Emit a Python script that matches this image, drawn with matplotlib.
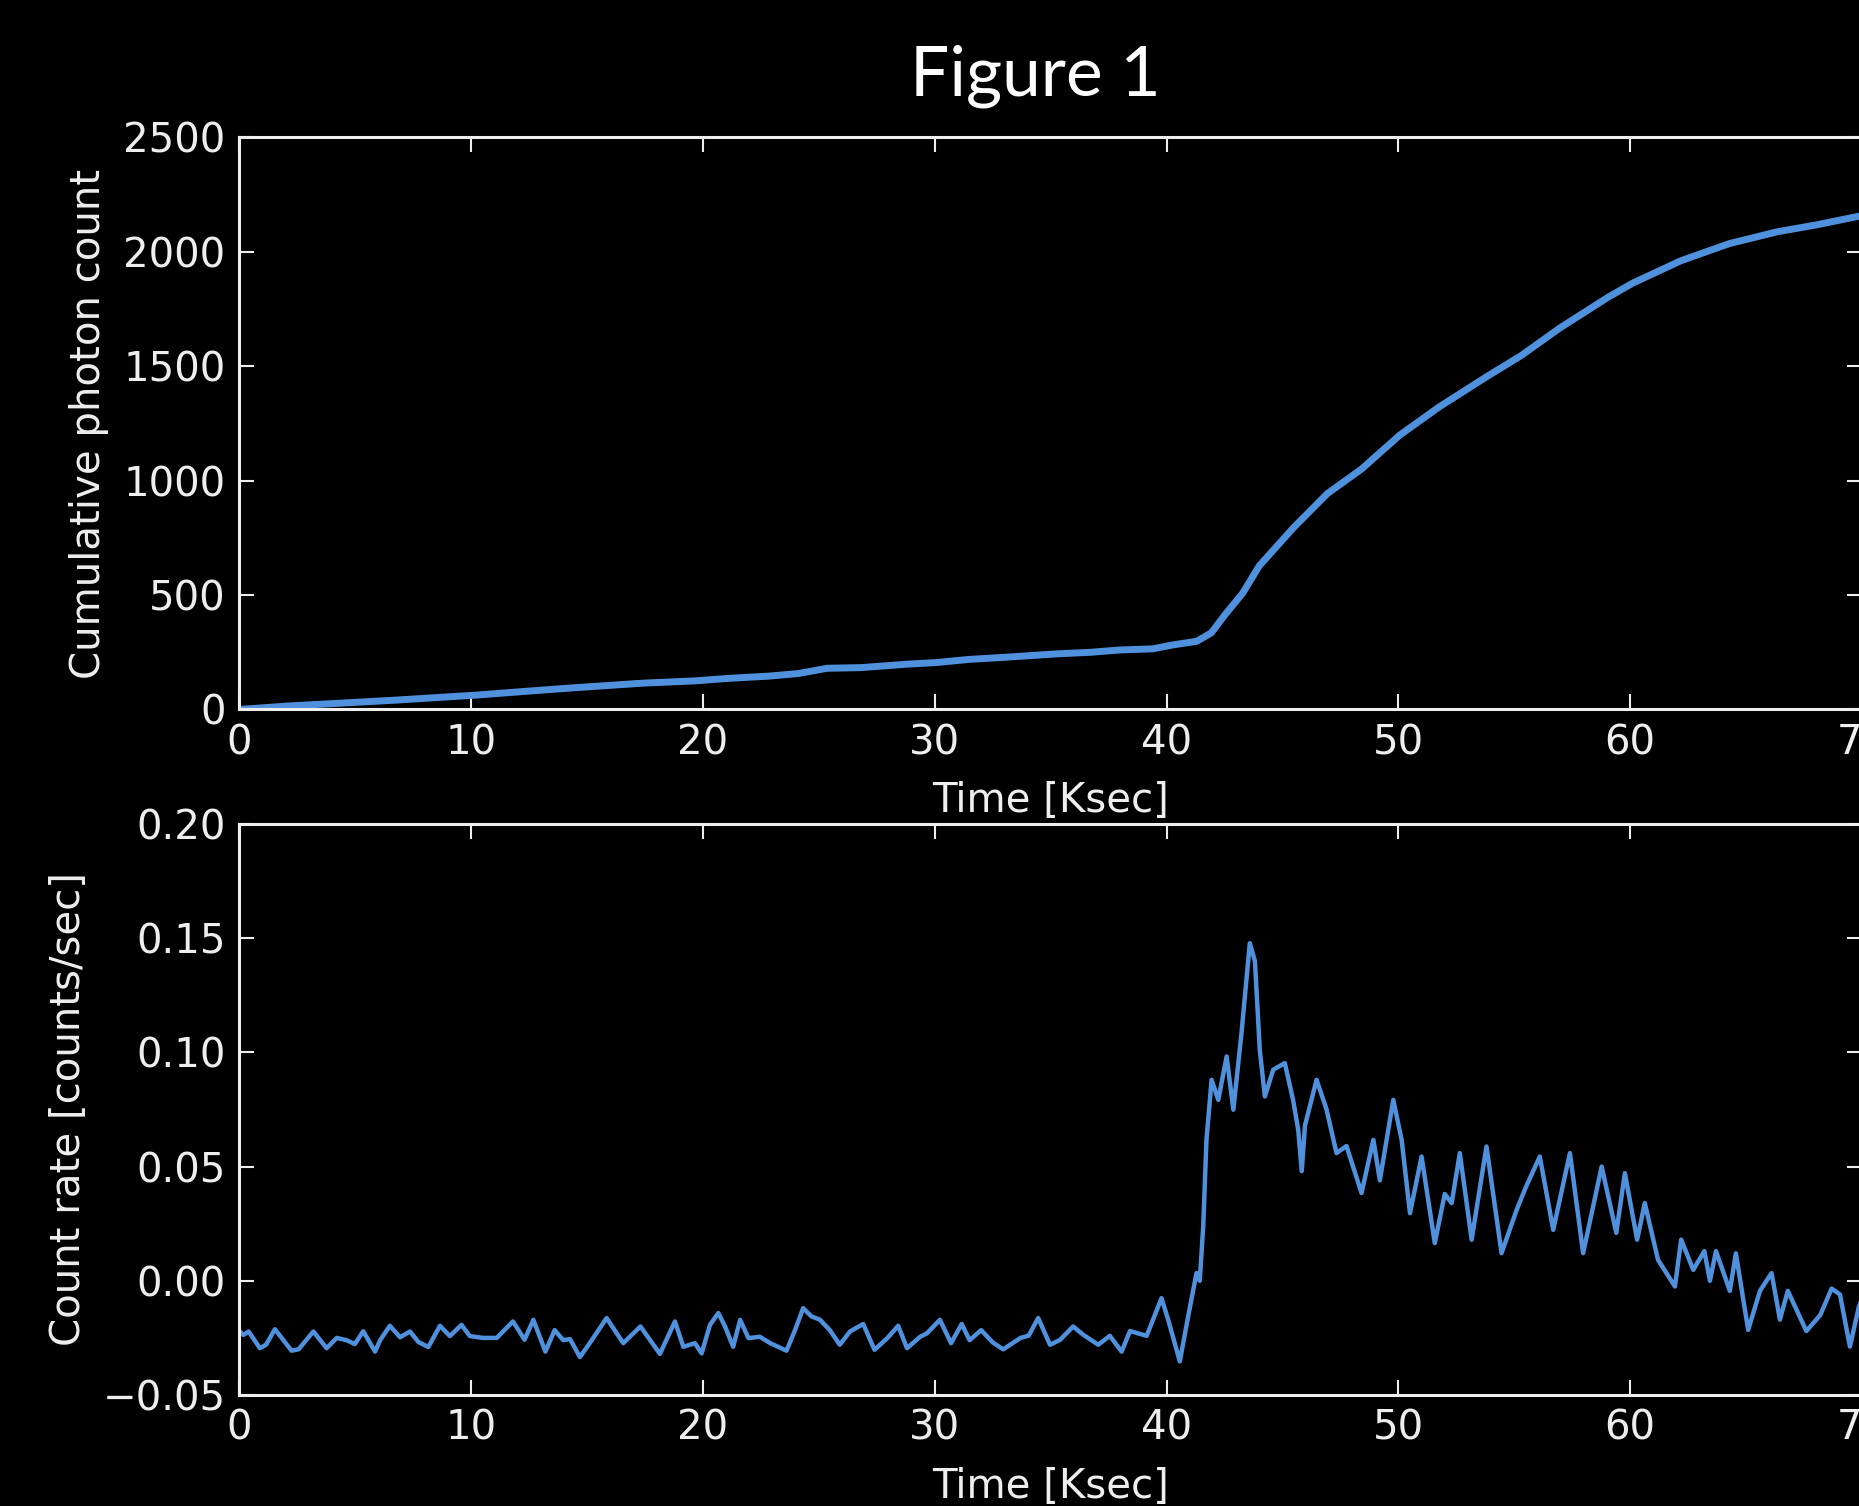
import numpy as np
import matplotlib
matplotlib.use("Agg")
import matplotlib.pyplot as plt

#======================================================================
# data
# cumulative photon count [counts] vs time [ksec]
cum_time = [0.0, 2.07, 4.8, 6.77, 8.5, 10.24, 12.7, 14.45, 17.4, 19.65,
            21.1, 22.87, 24.1, 25.35, 26.83, 28.8, 30.05, 31.5, 33.0, 35.25,
            36.73, 37.97, 39.4, 40.26, 41.3, 41.93, 42.55, 43.28, 44.0, 45.47,
            46.94, 48.4, 50.07, 51.74, 53.83, 55.3, 56.96, 59.05, 60.1, 62.18,
            64.27, 66.35, 68.03, 69.87, 70.0]
cum_count = [0, 15, 30, 41, 52, 63, 82, 95, 115, 125,
             136, 146, 157, 180, 183, 198, 205, 219, 228, 243,
             250, 260, 265, 282, 298, 335, 418, 508, 628, 794,
             944, 1050, 1200, 1321, 1456, 1547, 1667, 1802, 1863, 1961,
             2036, 2088, 2118, 2156, 2158]

# count rate [counts/sec] vs time [ksec]
rate_time = [0.0, 0.17, 0.4, 0.88, 1.15, 1.53, 2.25, 2.55, 3.19, 3.76,
             4.2, 4.62, 4.98, 5.34, 5.85, 6.07, 6.49, 6.93, 7.36, 7.72,
             8.15, 8.65, 9.08, 9.58, 9.94, 10.5, 11.1, 11.8, 12.3, 12.68,
             13.2, 13.6, 13.97, 14.26, 14.69, 15.2, 15.84, 16.56, 17.3, 18.14,
             18.79, 19.15, 19.65, 19.94, 20.3, 20.66, 20.95, 21.3, 21.6, 21.96,
             22.45, 22.9, 23.6, 23.97, 24.32, 24.68, 25.04, 25.47, 25.9, 26.34,
             26.91, 27.4, 27.95, 28.42, 28.8, 29.37, 29.66, 30.22, 30.7, 31.16,
             31.5, 32.0, 32.5, 32.95, 33.7, 34.05, 34.46, 34.97, 35.4, 35.97,
             36.4, 37.05, 37.55, 38.06, 38.42, 39.14, 39.78, 40.07, 40.57, 40.93,
             41.29, 41.43, 41.58, 41.72, 41.94, 42.23, 42.59, 42.88, 43.23, 43.59,
             43.81, 44.02, 44.24, 44.6, 45.1, 45.46, 45.68, 45.83, 45.97, 46.47,
             46.9, 47.33, 47.76, 48.41, 48.92, 49.2, 49.78, 50.14, 50.5, 51.0,
             51.57, 52.0, 52.3, 52.65, 53.16, 53.8, 54.45, 55.1, 55.5, 56.1,
             56.68, 57.4, 57.97, 58.77, 59.4, 59.77, 60.3, 60.63, 61.2, 61.93,
             62.2, 62.72, 63.2, 63.44, 63.7, 64.3, 64.56, 65.09, 65.6, 66.1,
             66.46, 66.8, 67.6, 68.2, 68.69, 69.05, 69.48, 69.87, 70.0]
rate_value = [-0.022, -0.0237, -0.0222, -0.0295, -0.028, -0.0212, -0.0306, -0.030, -0.0222, -0.0295,
              -0.025, -0.026, -0.0277, -0.0221, -0.031, -0.026, -0.0197, -0.0247, -0.0222, -0.0268,
              -0.029, -0.0197, -0.0242, -0.0193, -0.0242, -0.025, -0.025, -0.0178, -0.0258, -0.0171,
              -0.031, -0.0216, -0.026, -0.0255, -0.0334, -0.026, -0.0163, -0.0273, -0.0200, -0.032,
              -0.0178, -0.0289, -0.0273, -0.0318, -0.0193, -0.0141, -0.020, -0.0289, -0.0171, -0.0251,
              -0.0245, -0.0273, -0.0306, -0.0216, -0.012, -0.0156, -0.017, -0.0216, -0.028, -0.0222,
              -0.0189, -0.0302, -0.0251, -0.0197, -0.0295, -0.0245, -0.023, -0.0171, -0.0273, -0.0189,
              -0.026, -0.0216, -0.027, -0.030, -0.025, -0.024, -0.0163, -0.028, -0.0259, -0.020,
              -0.0236, -0.028, -0.0241, -0.031, -0.022, -0.0241, -0.0076, -0.0171, -0.0353, -0.0156,
              0.0034, 0.0, 0.0238, 0.0617, 0.088, 0.0792, 0.0982, 0.0749, 0.1084, 0.1478,
              0.140, 0.101, 0.0807, 0.0924, 0.0953, 0.079, 0.066, 0.048, 0.068, 0.088,
              0.075, 0.0559, 0.059, 0.0384, 0.0617, 0.044, 0.0792, 0.0617, 0.0296, 0.0544,
              0.0165, 0.038, 0.034, 0.0559, 0.018, 0.0588, 0.0121, 0.031, 0.041, 0.0544,
              0.0223, 0.0559, 0.0121, 0.050, 0.021, 0.0471, 0.018, 0.034, 0.0092, -0.0025,
              0.018, 0.0048, 0.013, 0.0, 0.013, -0.0044, 0.012, -0.0215, -0.0044, 0.0034,
              -0.017, -0.0044, -0.022, -0.015, -0.0034, -0.006, -0.0288, -0.0112, -0.008]

LINE_COLOR = "#4f91dd"
FG = "#eeeeee"

#======================================================================
plt.rcParams['font.family'] = 'DejaVu Sans'
plt.rcParams['font.size'] = 29
plt.rcParams['axes.linewidth'] = 2.2
plt.rcParams['text.color'] = FG
plt.rcParams['axes.labelcolor'] = FG
plt.rcParams['axes.edgecolor'] = FG
for ax_name in ('xtick', 'ytick'):
    plt.rcParams[ax_name + '.color'] = FG
    plt.rcParams[ax_name + '.labelcolor'] = FG
    plt.rcParams[ax_name + '.direction'] = 'in'
    plt.rcParams[ax_name + '.major.size'] = 11
    plt.rcParams[ax_name + '.major.width'] = 1.5
    plt.rcParams[ax_name + '.major.pad'] = 10

fig = plt.figure(figsize=(18.59, 15.06), dpi=100, facecolor='black')

fig.text(1035 / 1859, 1 - 95 / 1506, "Figure 1", ha='center', va='baseline',
         fontsize=50, family=['Lato', 'DejaVu Sans'], color='white')

ax1 = fig.add_axes([0.1288, 0.5289, 0.8728, 0.3798], facecolor='black')
ax2 = fig.add_axes([0.1288, 0.0737, 0.8728, 0.3792], facecolor='black')

ax1.plot(cum_time, cum_count, color=LINE_COLOR, lw=5, solid_capstyle='butt')
ax1.set_xlim(0, 70)
ax1.set_ylim(0, 2500)
ax1.set_xlabel("Time [Ksec]", labelpad=13)
ax1.set_ylabel("Cumulative photon count", labelpad=10)

ax2.plot(rate_time, rate_value, color=LINE_COLOR, lw=3.2)
ax2.set_xlim(0, 70)
ax2.set_ylim(-0.05, 0.20)
ax2.set_yticks([-0.05, 0.0, 0.05, 0.10, 0.15, 0.20])
ax2.set_xlabel("Time [Ksec]", labelpad=13)
ax2.set_ylabel("Count rate [counts/sec]", labelpad=10)

for ax in (ax1, ax2):
    ax.tick_params(top=True, right=True)
    ax.set_xticks(range(0, 71, 10))

plt.savefig("out.png", dpi=100, facecolor='black')
plt.close()
